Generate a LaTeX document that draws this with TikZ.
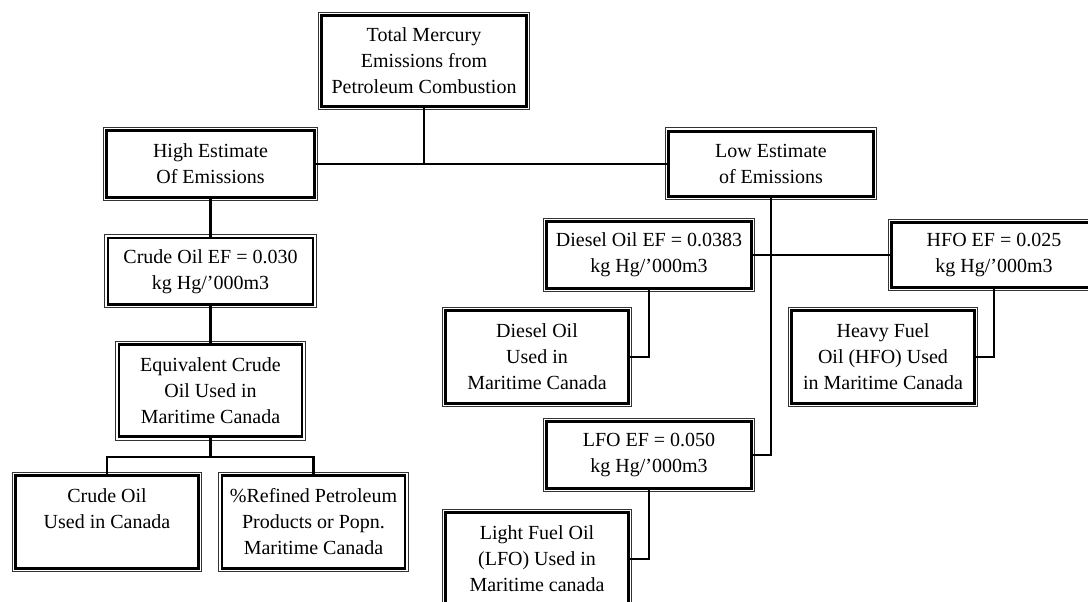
\documentclass[tikz,border=0pt]{standalone}
\usepackage{fontspec}
\setmainfont{Liberation Serif}
\usetikzlibrary{positioning}
\tikzset{
    hgbox/.style={
        rectangle, draw=black, line width=2.8pt, align=center,
        font=\fontsize{20}{26}\selectfont,
        append after command={\pgfextra{\let\thisbox\tikzlastnode
            \draw[line width=1pt, black!80]
                ([shift={(-1.85pt,-1.85pt)}]\thisbox.south west) rectangle
                ([shift={(1.85pt,1.85pt)}]\thisbox.north east);}}
    },
    efbox/.style={
        hgbox, minimum width=205pt, minimum height=66.5pt
    },
    usebox/.style={
        hgbox, minimum width=183pt, minimum height=92.5pt
    },
    link/.style={
        line width=2.8pt, draw=black
    }
}
\begin{document}
\begin{tikzpicture}[x=1pt, y=1pt]
    \useasboundingbox (0,0) rectangle (1088,602);
    \clip (0,0) rectangle (1088,602);

    \node[hgbox, minimum width=204.5pt, minimum height=90.5pt] at (424,541) (total)
        {Total Mercury\\Emissions from\\Petroleum Combustion};

    % high estimate branch
    \node[efbox, minimum width=207.5pt] at (210.5,438)    (high)    {High Estimate\\Of Emissions};
    \node[efbox, below=38pt of high]                      (crudeEF) {Crude Oil EF = 0.030\\kg Hg/'000m3};
    \node[usebox, below=37pt of crudeEF]                  (equiv)   {Equivalent Crude\\Oil Used in\\Maritime Canada};
    \node[usebox] at (107,80)                             (crude)   {Crude Oil\\Used in Canada\\\mbox{}};
    \node[usebox] at (313.5,80)                           (refined) {\%Refined Petroleum\\Products or Popn.\\Maritime Canada};
    \coordinate (split) at (210.5,145);

    % low estimate branch
    \node[efbox, minimum height=65.5pt] at (771,438)      (low)      {Low Estimate\\of Emissions};
    \node[efbox] at (649,347)                             (dieselEF) {Diesel Oil EF = 0.0383\\kg Hg/'000m3};
    \node[efbox, minimum height=64.5pt] at (994,347)      (hfoEF)    {HFO EF = 0.025\\kg Hg/'000m3};
    \node[usebox] at (537,245)                            (diesel)   {Diesel Oil\\Used in\\Maritime Canada};
    \node[usebox] at (883,245)                            (heavy)    {Heavy Fuel\\Oil (HFO) Used\\in Maritime Canada};
    \node[efbox] at (649,147)                             (lfoEF)    {LFO EF = 0.050\\kg Hg/'000m3};
    \node[usebox] at (537,43)                             (light)    {Light Fuel Oil\\(LFO) Used in\\Maritime canada};

    \draw[link] (total)    -- (total |- high);
    \draw[link] (high)     -- (low);
    \draw[link] (high)     -- (crudeEF);
    \draw[link] (crudeEF)  -- (equiv);
    \draw[link] (equiv)    -- (split);
    \draw[link] (crude)    |- (split) -| (refined);

    \draw[link] (low)      |- (lfoEF);
    \draw[link] (dieselEF) -- (hfoEF);
    \draw[link] (dieselEF) |- (diesel);
    \draw[link] (hfoEF)    |- (heavy);
    \draw[link] (lfoEF)    |- (light);

\end{tikzpicture}
\end{document}
